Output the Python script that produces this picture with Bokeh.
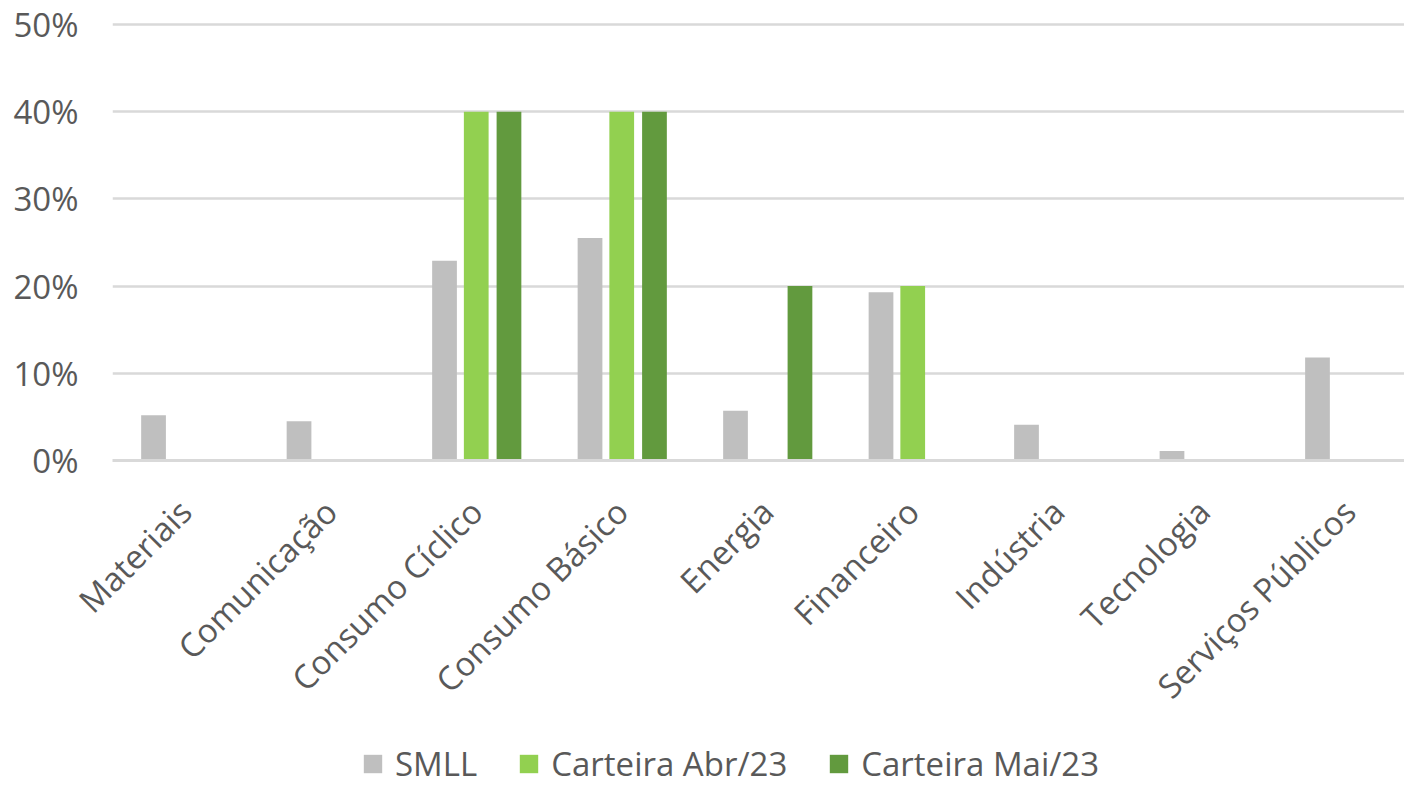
from bokeh.plotting import figure
from bokeh.models import Range1d, FixedTicker, PrintfTickFormatter, Legend, LegendItem
from bokeh.layouts import column
from bokeh.embed import file_html
from bokeh.resources import INLINE
import math

categories = ["Materiais", "Comunicação", "Consumo Cíclico", "Consumo Básico", "Energia",
              "Financeiro", "Indústria", "Tecnologia", "Serviços Públicos"]
smll = [5.2, 4.5, 22.9, 25.5, 5.7, 19.3, 4.1, 1.1, 11.8]
abr23 = [0, 0, 40, 40, 0, 20, 0, 0, 0]
mai23 = [0, 0, 40, 40, 20, 0, 0, 0, 0]
series_names = ["SMLL", "Carteira Abr/23", "Carteira Mai/23"]
colors = ["#BFBFBF", "#92D050", "#629A3E"]
y_ticks = [0, 10, 20, 30, 40, 50]

FONT = "Open Sans"
TXT = "#595959"
GRID = "#D9D9D9"
FS = "33px"

p = figure(width=1404, height=726, output_backend="svg", toolbar_location=None,
           x_range=Range1d(0, 8.88), y_range=Range1d(0, 50.45),
           min_border_left=112, min_border_right=0, min_border_top=20, min_border_bottom=262)
p.outline_line_color = None
p.background_fill_color = "white"
p.border_fill_color = "white"

xs = [i + 0.5 for i in range(len(categories))]
offsets = [-0.218, 0.0, 0.225]
series = [smll, abr23, mai23]
for vals, off, col in zip(series, offsets, colors):
    p.vbar(x=[x + off for x in xs], top=vals, width=0.17, fill_color=col, line_color=None)

p.xgrid.grid_line_color = None
p.ygrid.grid_line_color = GRID
p.ygrid.grid_line_width = 2.5
p.ygrid.ticker = FixedTicker(ticks=y_ticks[1:])

p.yaxis.ticker = FixedTicker(ticks=y_ticks)
p.yaxis.formatter = PrintfTickFormatter(format="%d%%")
p.yaxis.axis_line_color = None
p.yaxis.major_tick_line_color = None
p.yaxis.minor_tick_line_color = None
p.yaxis.major_label_standoff = 28
p.yaxis.major_label_text_font = FONT
p.yaxis.major_label_text_font_size = FS
p.yaxis.major_label_text_color = TXT

p.xaxis.ticker = FixedTicker(ticks=xs)
p.xaxis.major_label_overrides = {x: c for x, c in zip(xs, categories)}
p.xaxis.major_label_orientation = math.pi / 4
p.xaxis.axis_line_color = GRID
p.xaxis.axis_line_width = 3
p.xaxis.major_tick_line_color = None
p.xaxis.minor_tick_line_color = None
p.xaxis.major_label_standoff = 39
p.xaxis.major_label_text_font = FONT
p.xaxis.major_label_text_font_size = FS
p.xaxis.major_label_text_color = TXT

# legend strip below the chart (its bars lie outside its visible range; only the legend shows)
q = figure(width=1404, height=60, output_backend="svg", toolbar_location=None,
           x_range=Range1d(-100, -99), y_range=Range1d(0, 50),
           min_border=0, min_border_left=0, min_border_right=0, min_border_top=0, min_border_bottom=0)
q.axis.visible = False
q.grid.visible = False
q.outline_line_color = None
q.border_fill_color = "white"
legend_renderers = []
for vals, off, col in zip(series, offsets, colors):
    legend_renderers.append(q.vbar(x=[x + off for x in xs], top=vals, width=0.17,
                                   fill_color=col, line_color=None))
legend = Legend(items=[LegendItem(label=n, renderers=[r]) for n, r in zip(series_names, legend_renderers)],
                orientation="horizontal", location=(249, 0),
                padding=0, margin=0, spacing=40, border_line_color=None, background_fill_alpha=0,
                glyph_width=23, glyph_height=23, label_standoff=11,
                label_text_font=FONT, label_text_font_size=FS, label_text_color=TXT,
                label_height=30)
q.add_layout(legend, "center")

layout = column(p, q, spacing=0)
open("out.html", "w").write(file_html(layout, INLINE))
